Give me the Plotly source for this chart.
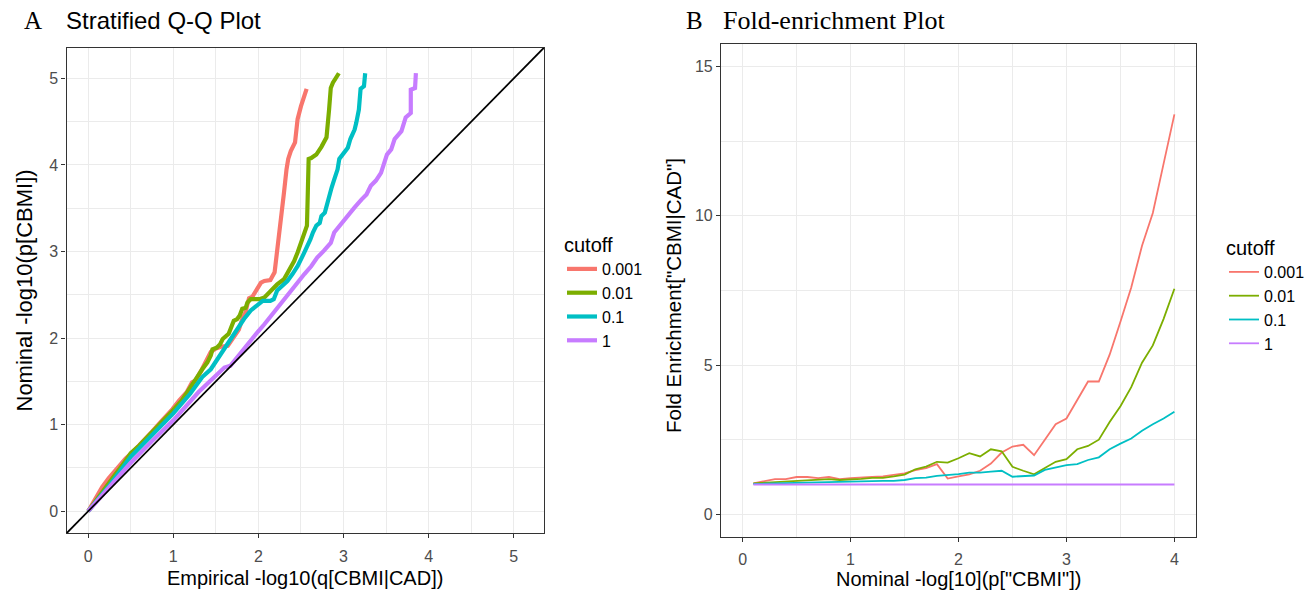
import plotly.graph_objects as go

W, H = 1311, 591

# ---------------- data ----------------
cutoffs = ["0.001", "0.01", "0.1", "1"]
colors = ["#F8766D", "#7CAE00", "#00BFC4", "#C77CFF"]

# Panel A: stratified Q-Q (x = empirical -log10 q, y = nominal -log10 p)
qq_x_0001 = [0, 0.086, 0.165, 0.24, 0.32, 0.38, 0.44, 0.52, 0.60, 0.67, 0.75, 0.85, 0.91, 0.99, 1.07, 1.16,
             1.22, 1.26, 1.32, 1.38, 1.44, 1.50, 1.56, 1.64, 1.67, 1.73, 1.77, 1.81, 1.85, 1.87, 1.89, 1.93,
             1.97, 2.03, 2.07, 2.14, 2.19, 2.22, 2.25, 2.27, 2.30, 2.33, 2.35, 2.38, 2.43, 2.46, 2.50, 2.566]
qq_y_0001 = [0, 0.15, 0.28, 0.38, 0.47, 0.53, 0.61, 0.68, 0.76, 0.84, 0.92, 1.03, 1.09, 1.18, 1.28, 1.38,
             1.49, 1.51, 1.61, 1.72, 1.84, 1.88, 1.90, 1.91, 1.95, 2.03, 2.10, 2.22, 2.30, 2.39, 2.46, 2.48,
             2.55, 2.64, 2.66, 2.67, 2.76, 2.99, 3.22, 3.41, 3.68, 3.95, 4.07, 4.16, 4.26, 4.53, 4.68, 4.88]

qq_x_001 = [0, 0.1, 0.2, 0.3, 0.4, 0.5, 0.6, 0.75, 0.9, 1.0, 1.1, 1.2, 1.28, 1.34, 1.40, 1.44, 1.46, 1.51,
            1.55, 1.58, 1.62, 1.65, 1.67, 1.71, 1.75, 1.78, 1.81, 1.85, 1.87, 1.91, 2.01, 2.07, 2.13, 2.18,
            2.22, 2.30, 2.36, 2.42, 2.46, 2.50, 2.52, 2.55, 2.57, 2.58, 2.59, 2.62, 2.68, 2.74, 2.80, 2.83,
            2.85, 2.875, 2.945]
qq_y_001 = [0, 0.14, 0.28, 0.40, 0.53, 0.67, 0.76, 0.91, 1.06, 1.17, 1.28, 1.42, 1.55, 1.64, 1.72, 1.80, 1.87, 1.89,
            1.93, 1.99, 2.03, 2.05, 2.10, 2.20, 2.22, 2.26, 2.34, 2.35, 2.41, 2.45, 2.45, 2.47, 2.53, 2.58,
            2.62, 2.68, 2.78, 2.89, 2.99, 3.10, 3.14, 3.24, 3.30, 3.68, 4.07, 4.08, 4.12, 4.21, 4.32, 4.64,
            4.89, 4.95, 5.06]

qq_x_01 = [0, 0.1, 0.25, 0.5, 0.75, 1.0, 1.2, 1.34, 1.44, 1.52, 1.60, 1.67, 1.75, 1.83, 1.91, 1.99, 2.05,
           2.14, 2.18, 2.22, 2.28, 2.34, 2.40, 2.46, 2.52, 2.58, 2.61, 2.64, 2.68, 2.72, 2.74, 2.78, 2.80,
           2.84, 2.86, 2.89, 2.93, 2.95, 3.01, 3.05, 3.08, 3.13, 3.15, 3.18, 3.20, 3.24, 3.254]
qq_y_01 = [0, 0.12, 0.30, 0.63, 0.88, 1.13, 1.36, 1.55, 1.64, 1.76, 1.87, 1.99, 2.10, 2.22, 2.32, 2.38, 2.43,
           2.43, 2.45, 2.55, 2.60, 2.66, 2.74, 2.83, 2.95, 3.07, 3.14, 3.22, 3.30, 3.33, 3.41, 3.45, 3.53,
           3.64, 3.74, 3.83, 3.95, 4.07, 4.14, 4.20, 4.30, 4.41, 4.49, 4.64, 4.88, 4.91, 5.06]

qq_x_1 = [0, 0.25, 0.5, 0.75, 1.0, 1.3, 1.6, 1.67, 1.75, 1.83, 1.91, 1.99, 2.07, 2.15, 2.22, 2.30, 2.38,
          2.46, 2.54, 2.62, 2.69, 2.77, 2.85, 2.89, 2.97, 3.05, 3.13, 3.21, 3.27, 3.32, 3.38, 3.44, 3.48,
          3.51, 3.56, 3.60, 3.68, 3.73, 3.79, 3.79, 3.84, 3.85]
qq_y_1 = [0, 0.28, 0.56, 0.81, 1.05, 1.38, 1.66, 1.68, 1.78, 1.87, 1.97, 2.07, 2.16, 2.26, 2.35, 2.45, 2.55,
          2.64, 2.74, 2.83, 2.93, 3.01, 3.10, 3.22, 3.32, 3.41, 3.51, 3.60, 3.66, 3.76, 3.82, 3.91, 4.03,
          4.12, 4.18, 4.30, 4.39, 4.55, 4.60, 4.87, 4.89, 5.06]

qq_ref_slope, qq_ref_intercept = 1.0, 0.0

# Panel B: fold enrichment
fe_x = [0.1, 0.2, 0.3, 0.4, 0.5, 0.6, 0.7, 0.8, 0.9, 1.0, 1.1, 1.2, 1.3, 1.4, 1.5, 1.6, 1.7, 1.8, 1.9, 2.0,
        2.1, 2.2, 2.3, 2.4, 2.5, 2.6, 2.7, 2.8, 2.9, 3.0, 3.1, 3.2, 3.3, 3.4, 3.5, 3.6, 3.7, 3.8, 3.9, 4.0]
fe_0001 = [1.04, 1.11, 1.18, 1.18, 1.25, 1.25, 1.21, 1.25, 1.18, 1.21, 1.22, 1.25, 1.27, 1.31, 1.37, 1.48,
           1.55, 1.68, 1.20, 1.27, 1.34, 1.46, 1.70, 2.07, 2.27, 2.33, 1.98, 2.50, 3.02, 3.21, 3.82, 4.45,
           4.45, 5.35, 6.45, 7.60, 9.00, 10.10, 11.75, 13.40]
fe_001 = [1.04, 1.06, 1.08, 1.11, 1.13, 1.14, 1.15, 1.18, 1.15, 1.16, 1.19, 1.22, 1.22, 1.27, 1.33, 1.51,
          1.60, 1.76, 1.73, 1.88, 2.05, 1.94, 2.18, 2.11, 1.59, 1.46, 1.34, 1.55, 1.76, 1.85, 2.18, 2.29,
          2.50, 3.09, 3.62, 4.26, 5.08, 5.66, 6.55, 7.56]
fe_01 = [1.02, 1.03, 1.04, 1.05, 1.06, 1.07, 1.08, 1.08, 1.08, 1.09, 1.10, 1.11, 1.12, 1.12, 1.15, 1.21,
         1.23, 1.29, 1.31, 1.35, 1.40, 1.40, 1.43, 1.46, 1.26, 1.29, 1.30, 1.49, 1.57, 1.65, 1.68, 1.82,
         1.91, 2.18, 2.37, 2.54, 2.80, 3.02, 3.21, 3.44]
fe_1 = [1.0, 1.0, 1.0, 1.0, 1.0, 1.0, 1.0, 1.0, 1.0, 1.0, 1.0, 1.0, 1.0, 1.0, 1.0, 1.0, 1.0, 1.0, 1.0, 1.0,
        1.0, 1.0, 1.0, 1.0, 1.0, 1.0, 1.0, 1.0, 1.0, 1.0, 1.0, 1.0, 1.0, 1.0, 1.0, 1.0, 1.0, 1.0, 1.0, 1.0]

qq_ticks = [0, 1, 2, 3, 4, 5]
fe_xticks = [0, 1, 2, 3, 4]
fe_yticks = [0, 5, 10, 15]
qq_range = [-0.255, 5.355]
fe_xrange = [-0.2, 4.2]
fe_yrange = [-0.75, 15.75]

# ---------------- figure ----------------
SANS = "Liberation Sans, Arial, sans-serif"
SERIF = "Liberation Serif, Times New Roman, serif"
fig = go.Figure()

qq_sets = [(qq_x_0001, qq_y_0001), (qq_x_001, qq_y_001), (qq_x_01, qq_y_01), (qq_x_1, qq_y_1)]
for (xs, ys), name, col in zip(qq_sets, cutoffs, colors):
    fig.add_trace(go.Scatter(x=xs, y=ys, mode="lines", name=name, line=dict(color=col, width=4.2),
                             xaxis="x", yaxis="y", legend="legend"))

fig.add_shape(type="line", xref="x", yref="y",
              x0=qq_range[0], y0=qq_ref_intercept + qq_ref_slope * qq_range[0],
              x1=qq_range[1], y1=qq_ref_intercept + qq_ref_slope * qq_range[1],
              line=dict(color="black", width=1.7), layer="above")

for ys, name, col in zip([fe_0001, fe_001, fe_01, fe_1], cutoffs, colors):
    fig.add_trace(go.Scatter(x=fe_x, y=ys, mode="lines", name=name, line=dict(color=col, width=1.8),
                             xaxis="x2", yaxis="y2", legend="legend2"))

def px_x(p):
    return p / W

def px_y(p):
    return 1 - p / H

axis_common = dict(showline=True, mirror=True, linecolor="#333333", linewidth=1.2,
                   ticks="outside", ticklen=4, tickcolor="#333333", tickwidth=1,
                   showgrid=True, gridcolor="#EBEBEB", gridwidth=1.3, zeroline=False,
                   tickfont=dict(family=SANS, size=16, color="#4D4D4D"))
minor_half = dict(dtick=0.5, tick0=0, showgrid=True, gridcolor="#EBEBEB", gridwidth=0.7, ticklen=0)

fig.update_layout(
    width=W, height=H, margin=dict(l=0, r=0, t=0, b=0),
    paper_bgcolor="white", plot_bgcolor="white",
    xaxis=dict(domain=[px_x(66.5), px_x(544)], range=qq_range, tickvals=qq_ticks, anchor="y",
               ticklabelstandoff=4, minor=minor_half, **axis_common),
    yaxis=dict(domain=[px_y(533.3), px_y(47.7)], range=qq_range, tickvals=qq_ticks, anchor="x",
               minor=minor_half, **axis_common),
    xaxis2=dict(domain=[px_x(721), px_x(1196)], range=fe_xrange, tickvals=fe_xticks, anchor="y2",
                ticklabelstandoff=4, minor=minor_half, **axis_common),
    yaxis2=dict(domain=[px_y(536.7), px_y(44.3)], range=fe_yrange, tickvals=fe_yticks, anchor="x2",
                minor=dict(dtick=2.5, tick0=0, showgrid=True, gridcolor="#EBEBEB", gridwidth=0.7, ticklen=0),
                **axis_common),
    legend=dict(title=dict(text="cutoff", font=dict(family=SANS, size=20, color="black")),
                font=dict(family=SANS, size=16, color="black"),
                x=px_x(562), y=px_y(226), xanchor="left", yanchor="top",
                bgcolor="rgba(0,0,0,0)", itemwidth=30),
    legend2=dict(title=dict(text="cutoff", font=dict(family=SANS, size=20, color="black")),
                 font=dict(family=SANS, size=16, color="black"),
                 x=px_x(1224), y=px_y(229), xanchor="left", yanchor="top",
                 bgcolor="rgba(0,0,0,0)", itemwidth=30),
    showlegend=True,
)

ann = []
ann.append(dict(text="A", x=px_x(33), y=px_y(21), xref="paper", yref="paper", showarrow=False,
                xanchor="center", yanchor="middle", font=dict(family=SERIF, size=25, color="black")))
ann.append(dict(text="Stratified Q-Q Plot", x=px_x(64), y=px_y(21), xref="paper", yref="paper", showarrow=False,
                xanchor="left", yanchor="middle", font=dict(family=SANS, size=24, color="black")))
ann.append(dict(text="B", x=px_x(694), y=px_y(21), xref="paper", yref="paper", showarrow=False,
                xanchor="center", yanchor="middle", font=dict(family=SERIF, size=25, color="black")))
ann.append(dict(text="Fold-enrichment Plot", x=px_x(721), y=px_y(21), xref="paper", yref="paper", showarrow=False,
                xanchor="left", yanchor="middle", font=dict(family=SERIF, size=26, color="black")))
# axis titles
ann.append(dict(text="Empirical -log10(q[CBMI|CAD])", x=px_x(305), y=px_y(578), xref="paper", yref="paper",
                showarrow=False, xanchor="center", yanchor="middle", font=dict(family=SANS, size=20, color="black")))
ann.append(dict(text="Nominal -log10(p[CBMI])", x=px_x(24), y=px_y(290.5), xref="paper", yref="paper",
                showarrow=False, textangle=-90, xanchor="center", yanchor="middle",
                font=dict(family=SANS, size=22, color="black")))
ann.append(dict(text="Nominal -log[10](p[\"CBMI\"])", x=px_x(958.5), y=px_y(579), xref="paper", yref="paper",
                showarrow=False, xanchor="center", yanchor="middle", font=dict(family=SANS, size=20, color="black")))
ann.append(dict(text="Fold Enrichment[\"CBMI|CAD\"]", x=px_x(673), y=px_y(296), xref="paper", yref="paper",
                showarrow=False, textangle=-90, xanchor="center", yanchor="middle",
                font=dict(family=SANS, size=20.5, color="black")))
fig.update_layout(annotations=ann)

fig.write_html("out.html", config={"displayModeBar": False},
               post_script="document.body.style.margin='0';document.body.style.overflow='hidden';")
